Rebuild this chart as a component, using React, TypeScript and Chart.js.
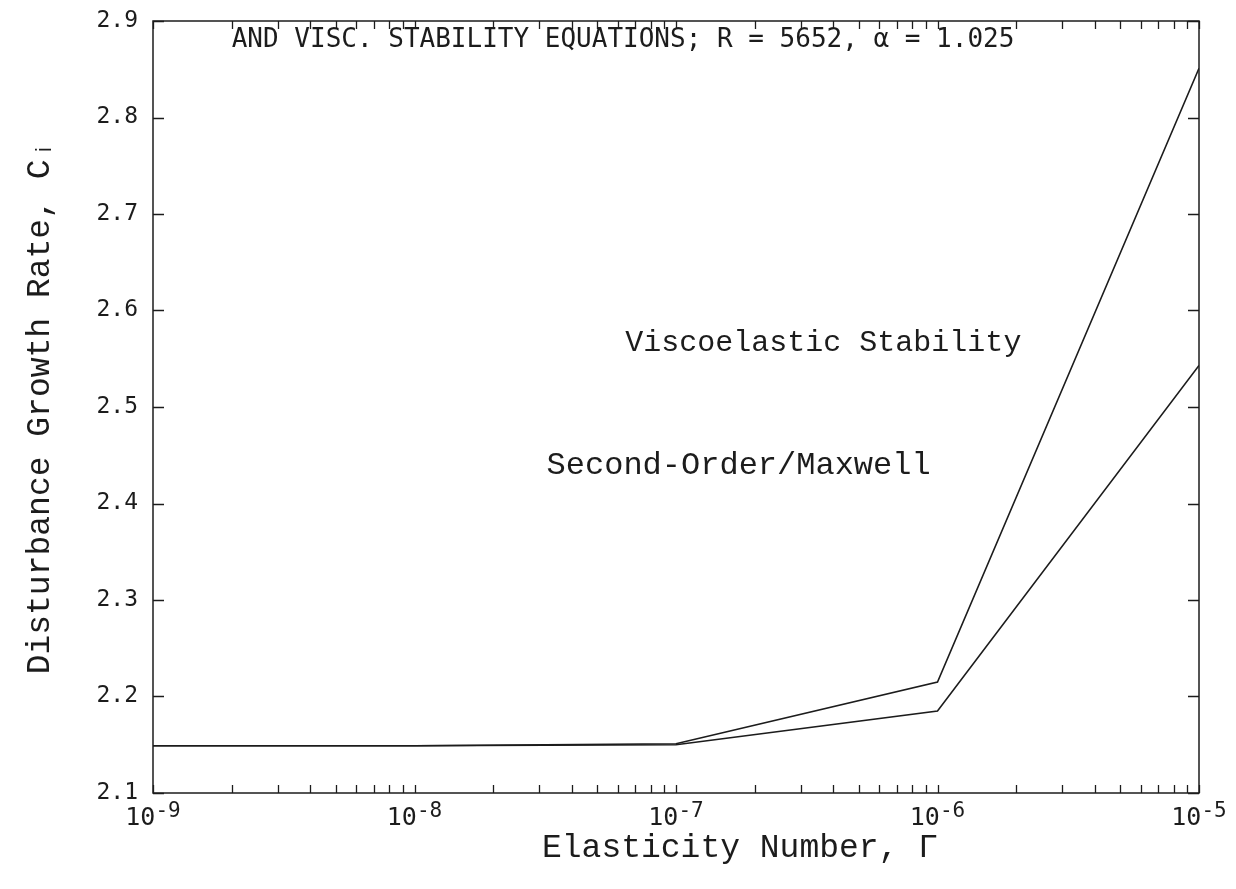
import React, { useEffect, useRef } from "react";
import { Chart, registerables } from "chart.js";

Chart.register(...registerables);

// Elasticity number Γ (x) and disturbance growth rate c_i (y)
const gammaValues = [1e-9, 1e-8, 1e-7, 1e-6, 1e-5];
const viscoelasticValues = [2.149, 2.149, 2.151, 2.215, 2.851];
const maxwellValues = [2.149, 2.149, 2.150, 2.185, 2.543];

const xMajorTicks = [1e-9, 1e-8, 1e-7, 1e-6, 1e-5];
const xTickBase = "10";
const xTickExponents = ["-9", "-8", "-7", "-6", "-5"];
const xMinorMultipliers = [2, 3, 4, 5, 6, 7, 8, 9];
const yTicks = [2.1, 2.2, 2.3, 2.4, 2.5, 2.6, 2.7, 2.8, 2.9];
const yTickLabels = ["2.1", "2.2", "2.3", "2.4", "2.5", "2.6", "2.7", "2.8", "2.9"];

const headerText = "AND VISC. STABILITY EQUATIONS; R = 5652, α = 1.025";
const viscoLabel = "Viscoelastic Stability";
const maxwellLabel = "Second-Order/Maxwell";
const xTitle = "Elasticity Number, Γ";
const yTitle = "Disturbance Growth Rate, Cᵢ";

const INK = "#1c1c1c";

const framePlugin = {
  id: "frame",
  afterDatasetsDraw(chart: any) {
    const ctx = chart.ctx;
    const { left, right, top, bottom } = chart.chartArea;
    const xs = chart.scales.x;
    const ys = chart.scales.y;
    ctx.save();
    ctx.strokeStyle = INK;
    ctx.lineWidth = 1.5;
    ctx.strokeRect(left, top, right - left, bottom - top);
    ctx.lineWidth = 1.3;
    ctx.beginPath();
    const xl = 8;
    xMajorTicks.forEach((d, i) => {
      const vals = [d];
      if (i < xMajorTicks.length - 1) xMinorMultipliers.forEach((m) => vals.push(d * m));
      vals.forEach((v) => {
        const px = Math.round(xs.getPixelForValue(v)) + 0.5;
        ctx.moveTo(px, bottom);
        ctx.lineTo(px, bottom - xl);
        ctx.moveTo(px, top);
        ctx.lineTo(px, top + xl);
      });
    });
    const yl = 11;
    yTicks.forEach((v) => {
      const py = Math.round(ys.getPixelForValue(v)) + 0.5;
      ctx.moveTo(left, py);
      ctx.lineTo(left + yl, py);
      ctx.moveTo(right, py);
      ctx.lineTo(right - yl, py);
    });
    ctx.stroke();

    ctx.fillStyle = INK;

    // x tick labels: 10 with raised exponent
    ctx.textBaseline = "alphabetic";
    ctx.textAlign = "left";
    const baseFont = "25px 'DejaVu Sans Mono'";
    const expFont = "21px 'DejaVu Sans Mono'";
    xMajorTicks.forEach((v, i) => {
      ctx.font = baseFont;
      const bw = ctx.measureText(xTickBase).width;
      ctx.font = expFont;
      const ew = ctx.measureText(xTickExponents[i]).width;
      const cx = xs.getPixelForValue(v);
      const x0 = cx - (bw + ew) / 2;
      ctx.font = baseFont;
      ctx.fillText(xTickBase, x0, bottom + 32);
      ctx.font = expFont;
      ctx.fillText(xTickExponents[i], x0 + bw, bottom + 24);
    });

    ctx.textBaseline = "middle";
    ctx.font = "26px 'DejaVu Sans Mono'";
    ctx.fillText(headerText, xs.getPixelForValue(2e-9), ys.getPixelForValue(2.88));
    ctx.font = "30px 'Liberation Mono'";
    ctx.fillText(viscoLabel, xs.getPixelForValue(6.4e-8), ys.getPixelForValue(2.566));
    ctx.font = "32px 'Liberation Mono'";
    ctx.fillText(maxwellLabel, xs.getPixelForValue(3.2e-8), ys.getPixelForValue(2.439));

    // x axis title
    ctx.textAlign = "center";
    ctx.font = "33px 'Liberation Mono'";
    ctx.fillText(xTitle, (left + right) / 2 + 64, bottom + 55);
    ctx.restore();
  },
};

export default function App() {
  const ref = useRef<HTMLCanvasElement>(null);
  useEffect(() => {
    const canvas = ref.current;
    if (!canvas) return;
    const chart = new Chart(canvas, {
      type: "line",
      data: {
        datasets: [
          {
            label: viscoLabel,
            data: gammaValues.map((x, i) => ({ x, y: viscoelasticValues[i] })),
            borderColor: INK,
            borderWidth: 1.6,
            pointRadius: 0,
            tension: 0,
            fill: false,
          },
          {
            label: maxwellLabel,
            data: gammaValues.map((x, i) => ({ x, y: maxwellValues[i] })),
            borderColor: INK,
            borderWidth: 1.6,
            pointRadius: 0,
            tension: 0,
            fill: false,
          },
        ],
      },
      options: {
        animation: false,
        responsive: false,
        devicePixelRatio: 1,
        layout: { padding: { top: 21, right: 37, left: 0, bottom: 0 } },
        plugins: { legend: { display: false }, tooltip: { enabled: false } },
        scales: {
          x: {
            type: "logarithmic",
            min: 1e-9,
            max: 1e-5,
            position: "bottom",
            grid: { display: false, drawTicks: false },
            border: { display: false },
            afterBuildTicks: (s: any) => {
              s.ticks = xMajorTicks.map((v) => ({ value: v }));
            },
            afterFit: (s: any) => {
              s.height = 96;
              s.paddingLeft = 0;
              s.paddingRight = 0;
            },
            ticks: { display: false },
            title: { display: false, text: xTitle },
          },
          y: {
            type: "linear",
            min: 2.1,
            max: 2.9,
            grid: { display: false, drawTicks: false },
            border: { display: false },
            afterBuildTicks: (s: any) => {
              s.ticks = yTicks.map((v) => ({ value: v }));
            },
            afterFit: (s: any) => {
              s.width = 153;
              s.paddingTop = 0;
              s.paddingBottom = 0;
            },
            ticks: {
              padding: 15,
              color: INK,
              font: { family: "'DejaVu Sans Mono'", size: 23 },
              callback: (_v: any, i: number) => yTickLabels[i],
            },
            title: {
              display: true,
              text: yTitle,
              color: INK,
              font: { family: "'Liberation Mono'", size: 33 },
              padding: { top: 20, bottom: 0 },
            },
          },
        },
      },
      plugins: [framePlugin],
    } as any);
    return () => chart.destroy();
  }, []);
  return (
    <div style={{ position: "fixed", left: 0, top: 0, width: 1236, height: 889, background: "#fff" }}>
      <canvas ref={ref} width={1236} height={889} />
    </div>
  );
}
